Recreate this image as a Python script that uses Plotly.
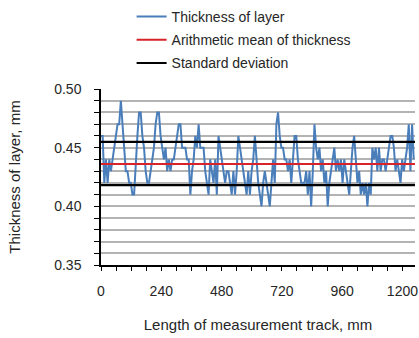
import numpy as np
import plotly.graph_objects as go

# Thickness readings (mm), left to right
thickness = [
    0.46, 0.46, 0.42, 0.44, 0.42, 0.44, 0.43, 0.44, 0.45, 0.46, 0.47, 0.47, 0.49, 0.47, 0.45,
    0.43, 0.43, 0.42, 0.42, 0.41, 0.41, 0.44, 0.46, 0.48, 0.48, 0.46, 0.45, 0.43, 0.42, 0.42,
    0.43, 0.44, 0.45, 0.47, 0.48, 0.48, 0.46, 0.45, 0.44, 0.45, 0.43, 0.44, 0.43, 0.44, 0.44,
    0.45, 0.46, 0.47, 0.47, 0.45, 0.45, 0.45, 0.44, 0.44, 0.41, 0.43, 0.44, 0.46, 0.45, 0.47, 0.45,
    0.45, 0.45, 0.43, 0.42, 0.41, 0.44, 0.43, 0.42, 0.44, 0.41, 0.46, 0.45, 0.44, 0.43, 0.42,
    0.43, 0.43, 0.42, 0.41, 0.43, 0.41, 0.43, 0.46, 0.45, 0.44, 0.43, 0.42, 0.41, 0.43, 0.41, 0.43,
    0.44, 0.46, 0.44, 0.42, 0.41, 0.40, 0.42, 0.43, 0.42, 0.41, 0.40, 0.42, 0.44, 0.42, 0.47,
    0.48, 0.46, 0.45, 0.45, 0.44, 0.44, 0.43, 0.44, 0.42, 0.44, 0.46, 0.46, 0.44, 0.43, 0.42, 0.42,
    0.42, 0.43, 0.41, 0.43, 0.40, 0.43, 0.47, 0.45, 0.44, 0.45, 0.43, 0.44, 0.42, 0.43, 0.40,
    0.42, 0.43, 0.44, 0.45, 0.43, 0.44, 0.43, 0.44, 0.42, 0.44, 0.43, 0.42, 0.41, 0.43, 0.45, 0.46,
    0.44, 0.42, 0.43, 0.41, 0.42, 0.41, 0.42, 0.40, 0.42, 0.41, 0.45, 0.44, 0.45, 0.43, 0.45,
    0.43, 0.44, 0.44, 0.43, 0.44, 0.45, 0.46, 0.46, 0.45, 0.43, 0.44, 0.43, 0.42, 0.44, 0.43,
    0.44, 0.45, 0.47, 0.43, 0.47, 0.44,
]
track_start = 0
track_end = 1245
track = np.linspace(track_start, track_end, len(thickness))

mean_thickness = 0.436
std_upper = 0.455
std_lower = 0.418

x_range = [0, 1250]
y_range = [0.35, 0.50]

font_family = "Liberation Sans, Arial, sans-serif"
text_color = "#262626"
grid_color = "#b3b3b3"

fig = go.Figure()
fig.add_trace(go.Scatter(
    x=track, y=thickness, mode="lines", name="Thickness of layer",
    line=dict(color="#4a7ebb", width=2), legendgroup="a",
))
fig.add_trace(go.Scatter(
    x=x_range, y=[mean_thickness, mean_thickness], mode="lines",
    name="Arithmetic mean of thickness",
    line=dict(color="#d8232a", width=2), legendgroup="b",
))
fig.add_trace(go.Scatter(
    x=x_range, y=[std_upper, std_upper], mode="lines", name="Standard deviation",
    line=dict(color="black", width=2.2), legendgroup="c",
))
fig.add_trace(go.Scatter(
    x=x_range, y=[std_lower, std_lower], mode="lines", name="Standard deviation",
    line=dict(color="black", width=2.2), legendgroup="c", showlegend=False,
))

fig.update_layout(
    width=419, height=338,
    margin=dict(l=101, r=4, t=89, b=73, autoexpand=False),
    paper_bgcolor="white", plot_bgcolor="white",
    font=dict(family=font_family, size=14, color=text_color),
    showlegend=True,
    legend=dict(
        xref="paper", x=0.0975, xanchor="left",
        yref="paper", y=1.5, yanchor="top",
        bgcolor="rgba(0,0,0,0)", tracegroupgap=2,
        font=dict(size=14, color=text_color),
        itemwidth=30,
    ),
)
fig.update_xaxes(
    range=x_range, showgrid=False, zeroline=False, automargin=True,
    showline=True, linecolor="black", linewidth=1.5,
    ticks="outside", ticklen=4, tickcolor="black", tickwidth=1,
    tick0=0, dtick=240, ticklabelstandoff=8,
    minor=dict(dtick=60, ticks="outside", ticklen=4, tickcolor="black", showgrid=False),
    title=dict(text="Length of measurement track, mm", font=dict(size=15), standoff=22),
)
fig.update_yaxes(
    range=y_range, zeroline=False, automargin=True,
    showline=True, linecolor="black", linewidth=1.5,
    ticks="outside", ticklen=5, tickcolor="black", tickwidth=1,
    tick0=0.35, dtick=0.05, tickformat=".2f", ticklabelstandoff=10,
    showgrid=True, gridcolor=grid_color, gridwidth=1.6,
    minor=dict(dtick=0.01, ticks="outside", ticklen=5, tickcolor="black",
               showgrid=True, gridcolor=grid_color, gridwidth=1.6),
    title=dict(text="Thickness of layer, mm", font=dict(size=15), standoff=30),
)

# remove the browser's default 8 px page margin so the figure fills the window
fig.write_html(
    "out.html",
    config={"displayModeBar": False},
    post_script="document.body.style.margin='0px';",
)
